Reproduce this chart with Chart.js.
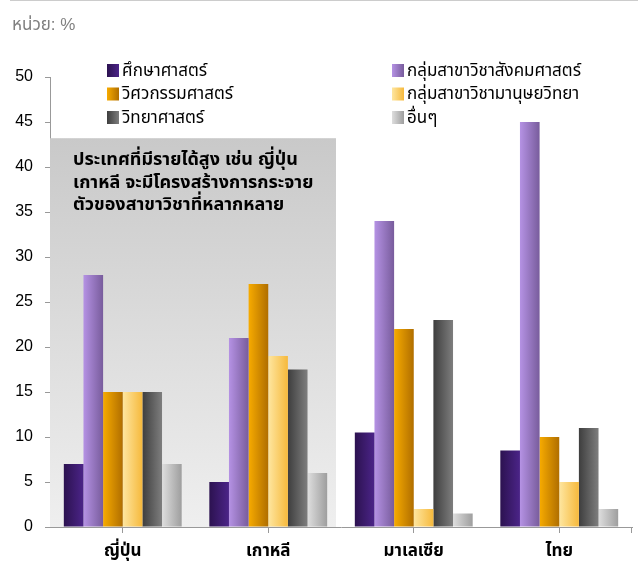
<!DOCTYPE html>
<html>
<head>
<meta charset="utf-8">
<script src="https://cdn.jsdelivr.net/npm/chart.js@4.4.1/dist/chart.umd.min.js"></script>
<style>
  html, body { margin: 0; padding: 0; background: #fff; }
  #wrap { position: relative; width: 638px; height: 572px; }
</style>
</head>
<body>
<div id="wrap"><canvas id="chart" width="638" height="572"></canvas></div>
<script>
const countries = ['ญี่ปุ่น', 'เกาหลี', 'มาเลเซีย', 'ไทย'];
const fields = ['ศึกษาศาสตร์', 'กลุ่มสาขาวิชาสังคมศาสตร์', 'วิศวกรรมศาสตร์', 'กลุ่มสาขาวิชามานุษยวิทยา', 'วิทยาศาสตร์', 'อื่นๆ'];
const education = [7, 5, 10.5, 8.5];
const social = [28, 21, 34, 45];
const engineering = [15, 27, 22, 10];
const humanities = [15, 19, 2, 5];
const science = [15, 17.5, 23, 11];
const others = [7, 6, 1.5, 2];
const yTicks = [0, 5, 10, 15, 20, 25, 30, 35, 40, 45, 50];
const note = ['ประเทศที่มีรายได้สูง เช่น ญี่ปุ่น', 'เกาหลี จะมีโครงสร้างการกระจาย', 'ตัวของสาขาวิชาที่หลากหลาย'];

// left -> right shade of each bar
const shades = [
  ['#2c1250', '#4b2488'],
  ['#b592e4', '#785c9c'],
  ['#f7ab00', '#b06e00'],
  ['#fee6a0', '#f6b93c'],
  ['#3e3e3e', '#7e7e7e'],
  ['#dedede', '#9e9e9e']
];
const CAT_PCT = 0.81;
const FONT = "'Liberation Sans', Arial, 'Noto Sans Thai', 'Noto Sans', sans-serif";

function barFill(ctx) {
  const chart = ctx.chart;
  const ds = ctx.datasetIndex;
  const xs = chart.scales.x;
  if (!xs || !chart.chartArea) return shades[ds][0];
  const catW = xs.width / countries.length;
  const bw = catW * CAT_PCT / fields.length;
  const left = xs.getPixelForValue(ctx.dataIndex) - catW * CAT_PCT / 2 + ds * bw;
  const g = chart.ctx.createLinearGradient(left, 0, left + bw, 0);
  g.addColorStop(0, shades[ds][0]);
  g.addColorStop(1, shades[ds][1]);
  return g;
}

const series = [education, social, engineering, humanities, science, others];

const backdrop = {
  id: 'backdrop',
  beforeDatasetsDraw(chart) {
    const { ctx, chartArea, scales } = chart;
    const top = scales.y.getPixelForValue(43.2);
    const right = scales.x.getPixelForValue(1.5) - 5;
    const g = ctx.createLinearGradient(0, top, 0, chartArea.bottom);
    g.addColorStop(0, '#c9c9c9');
    g.addColorStop(1, '#efefef');
    ctx.save();
    ctx.fillStyle = g;
    ctx.fillRect(chartArea.left, top, right - chartArea.left, chartArea.bottom - top);
    ctx.fillStyle = '#000';
    ctx.font = 'bold 18px ' + FONT;
    ctx.textBaseline = 'middle';
    note.forEach((line, i) => ctx.fillText(line, chartArea.left + 23, top + 22 + i * 22.5));
    ctx.restore();
  },
  afterDraw(chart) {
    const { ctx, chartArea } = chart;
    ctx.save();
    // thin rule across the top and the unit caption
    ctx.strokeStyle = '#cccccc';
    ctx.lineWidth = 1;
    ctx.beginPath();
    ctx.moveTo(10, 0.5);
    ctx.lineTo(638, 0.5);
    ctx.stroke();
    ctx.fillStyle = '#808080';
    ctx.font = '17px ' + FONT;
    ctx.textBaseline = 'middle';
    ctx.fillText('หน่วย: %', 12, 25);
    // closing tick at the right end of the x axis
    ctx.strokeStyle = '#999999';
    ctx.beginPath();
    ctx.moveTo(chartArea.right - 0.5, chartArea.bottom);
    ctx.lineTo(chartArea.right - 0.5, chartArea.bottom + 6);
    ctx.stroke();
    // legend, filled row by row in two columns
    ctx.font = '17px ' + FONT;
    fields.forEach((name, i) => {
      const x = i % 2 === 0 ? 107 : 392;
      const y = 70 + Math.floor(i / 2) * 23.5;
      const g = ctx.createLinearGradient(x, 0, x + 12, 0);
      g.addColorStop(0, shades[i][0]);
      g.addColorStop(1, shades[i][1]);
      ctx.fillStyle = g;
      ctx.fillRect(x, y - 6, 12, 13);
      ctx.fillStyle = '#000';
      ctx.fillText(name, x + 15, y + 1);
    });
    ctx.restore();
  }
};

new Chart(document.getElementById('chart'), {
  type: 'bar',
  data: {
    labels: countries,
    datasets: series.map((vals, i) => ({
      label: fields[i],
      data: vals,
      backgroundColor: barFill,
      borderWidth: 0,
      barPercentage: 1,
      categoryPercentage: CAT_PCT
    }))
  },
  options: {
    responsive: false,
    animation: false,
    layout: { padding: { top: 77, right: 6, left: 0, bottom: 0 } },
    plugins: { legend: { display: false }, tooltip: { enabled: false } },
    scales: {
      x: {
        grid: { offset: false, drawOnChartArea: false, tickLength: 6, color: '#999999' },
        border: { color: '#999999', width: 1 },
        ticks: { color: '#000', font: { family: FONT, size: 17, weight: 'bold' }, padding: 8 },
        afterFit(s) { s.height = 45; }
      },
      y: {
        min: 0,
        max: 50,
        afterBuildTicks(s) { s.ticks = yTicks.map(v => ({ value: v })); },
        grid: { drawOnChartArea: false, tickLength: 5, color: '#999999' },
        border: { color: '#999999', width: 1 },
        ticks: { color: '#000', font: { family: FONT, size: 16 }, padding: 12 },
        afterFit(s) { s.width = 50; }
      }
    }
  },
  plugins: [backdrop]
});
</script>
</body>
</html>
